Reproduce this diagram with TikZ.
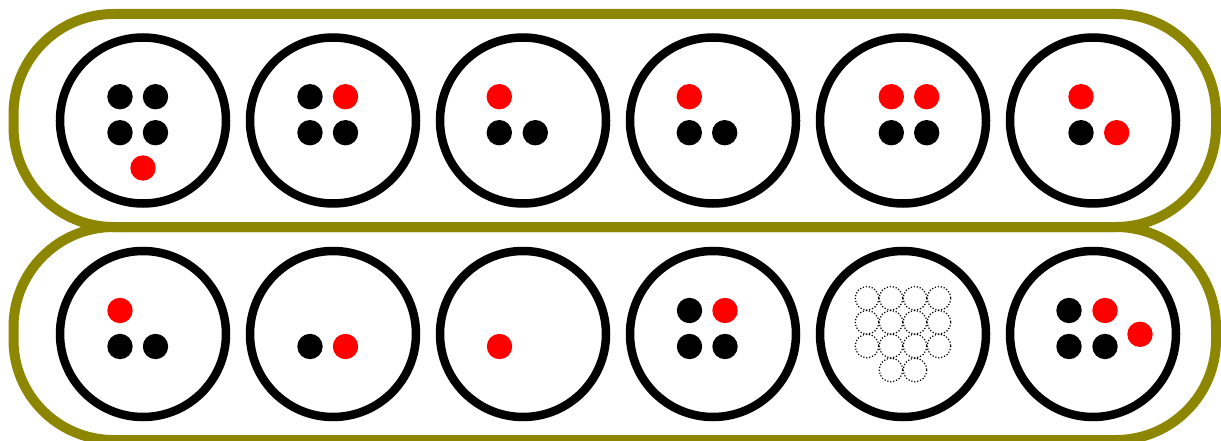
\documentclass[tikz,border=0pt]{standalone}
\begin{document}
\begin{tikzpicture}[x=1pt,y=-1pt,
  band/.style={draw=olive,line width=10pt,rounded corners=100pt},
  cell/.style={draw=black,line width=8.5pt},
  bd/.style={fill=black},
  rd/.style={fill=red},
  ghost/.style={draw=black,line width=1.2pt,dash pattern=on 1.2pt off 1.8pt}]
\useasboundingbox (0,0) rectangle (1221,441);
\begin{scope}
  \clip (0,0) rectangle (1221,441);
  \draw[band] (13.5,14) rectangle (1216,227);
  \draw[band] (13.5,227) rectangle (1216,440);
\end{scope}
% cells
\foreach \x in {143,333,523,713,903,1093}{
  \draw[cell] (\x,120.5) circle[radius=83];
  \draw[cell] (\x,334) circle[radius=83];
}
\def\dr{12.7}
% top row
\fill[bd] (120,96.7) circle[radius=\dr];
\fill[bd] (155.5,96.7) circle[radius=\dr];
\fill[bd] (120,132.7) circle[radius=\dr];
\fill[bd] (155.5,132.7) circle[radius=\dr];
\fill[rd] (143,168) circle[radius=\dr];

\fill[bd] (310,96.7) circle[radius=\dr];
\fill[rd] (345.5,96.7) circle[radius=\dr];
\fill[bd] (310,132.7) circle[radius=\dr];
\fill[bd] (345.5,132.7) circle[radius=\dr];

\fill[rd] (499.3,96.7) circle[radius=\dr];
\fill[bd] (499.3,132.7) circle[radius=\dr];
\fill[bd] (535.3,132.7) circle[radius=\dr];

\fill[rd] (689.3,96.7) circle[radius=\dr];
\fill[bd] (689.3,132.7) circle[radius=\dr];
\fill[bd] (724.7,132.7) circle[radius=\dr];

\fill[rd] (891.3,96.7) circle[radius=\dr];
\fill[rd] (926.7,96.7) circle[radius=\dr];
\fill[bd] (891.3,132.7) circle[radius=\dr];
\fill[bd] (926.7,132.7) circle[radius=\dr];

\fill[rd] (1081,96.7) circle[radius=\dr];
\fill[bd] (1081,132.7) circle[radius=\dr];
\fill[rd] (1116.7,132.7) circle[radius=\dr];
% bottom row
\fill[rd] (120,310.5) circle[radius=\dr];
\fill[bd] (120,346.5) circle[radius=\dr];
\fill[bd] (155.5,346.5) circle[radius=\dr];

\fill[bd] (310,346.5) circle[radius=\dr];
\fill[rd] (345.5,346.5) circle[radius=\dr];

\fill[rd] (499.5,346.5) circle[radius=\dr];

\fill[bd] (689.5,310.5) circle[radius=\dr];
\fill[rd] (725,310.5) circle[radius=\dr];
\fill[bd] (689.5,346.5) circle[radius=\dr];
\fill[bd] (725,346.5) circle[radius=\dr];

\foreach \gx in {867,891,915,939}{
  \foreach \gy in {298.3,322.3,346}{
    \draw[ghost] (\gx,\gy) circle[radius=11.8];
  }
}
\draw[ghost] (891,370) circle[radius=11.8];
\draw[ghost] (915,370) circle[radius=11.8];

\fill[bd] (1069,310.5) circle[radius=\dr];
\fill[rd] (1105,310.5) circle[radius=\dr];
\fill[rd] (1140,334.3) circle[radius=\dr];
\fill[bd] (1069,346.5) circle[radius=\dr];
\fill[bd] (1105,346.5) circle[radius=\dr];
\end{tikzpicture}
\end{document}
